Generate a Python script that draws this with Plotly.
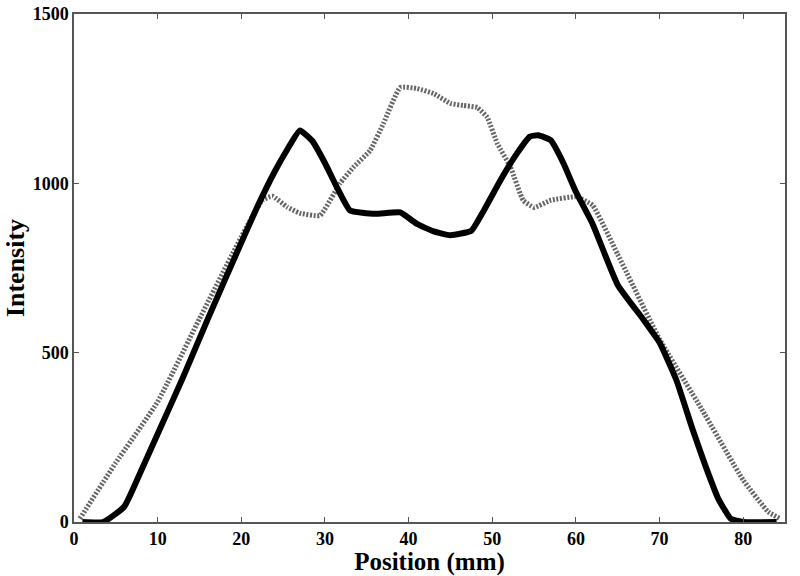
import plotly.graph_objects as go

# Solid black profile
solid_x = [1, 3.5, 6, 8, 10, 13, 16, 20, 22, 24, 25.5, 27, 28.5, 30, 31.5, 33, 36, 39, 41, 43, 45, 47.5, 49, 51, 53, 54.5, 55.5, 57, 58.5, 60, 62, 65, 68, 70, 72, 74, 75.5, 77, 78.5, 80, 84]
solid_y = [0, 0, 45, 150, 260, 425, 600, 825, 935, 1035, 1100, 1156, 1125, 1060, 985, 920, 910, 914, 880, 858, 847, 860, 920, 1010, 1090, 1138, 1142, 1127, 1060, 975, 880, 700, 600, 530, 420, 270, 165, 70, 10, 0, 0]

# Dotted grey profile
dot_x = [0.7, 5, 10, 15, 20, 22.5, 23.7, 25.5, 27, 29.4, 31.8, 33.5, 35.4, 37, 39, 41, 43, 45, 46.5, 48.2, 49.4, 50.6, 52.2, 53.7, 55, 57, 60, 62, 65, 70, 75, 80, 83, 84.4]
dot_y = [10, 175, 355, 600, 842, 950, 962, 930, 912, 905, 1000, 1050, 1097, 1177, 1283, 1280, 1265, 1236, 1230, 1224, 1195, 1118, 1047, 950, 929, 950, 960, 935, 790, 540, 335, 124, 30, 10]

x_ticks = [0, 10, 20, 30, 40, 50, 60, 70, 80]
y_ticks = [0, 500, 1000, 1500]

fig = go.Figure()
fig.add_trace(go.Scatter(x=dot_x, y=dot_y, mode="lines",
                         line=dict(color="#666666", width=5, dash="2px,1.6px", shape="spline", smoothing=0.4),
                         showlegend=False))
fig.add_trace(go.Scatter(x=solid_x, y=solid_y, mode="lines",
                         line=dict(color="black", width=6, shape="spline", smoothing=0.4),
                         showlegend=False))

font_family = "Liberation Serif, Times New Roman, serif"
axis_common = dict(showgrid=False, zeroline=False, showline=True, linecolor="#555", linewidth=1.5,
                   mirror="allticks", ticks="inside", ticklen=5, tickcolor="#555", automargin=False,
                   tickfont=dict(family=font_family, size=18, color="black"))

fig.update_layout(
    width=800, height=576,
    margin=dict(l=74, r=15, t=14, b=54),
    paper_bgcolor="white", plot_bgcolor="white",
    xaxis=dict(range=[0, 85], tickvals=x_ticks, ticktext=[f"<b>{v}</b>" for v in x_ticks], ticklabelstandoff=0,
               title=dict(text="<b>Position (mm)</b>", font=dict(family=font_family, size=25, color="black"), standoff=0),
               **axis_common),
    yaxis=dict(range=[0, 1500], tickvals=y_ticks, ticktext=[f"<b>{v}</b>" for v in y_ticks],
               title=dict(text="<b>Intensity</b>", font=dict(family=font_family, size=26, color="black"), standoff=1),
               **axis_common),
)

fig.write_html("out.html", config={"displayModeBar": False},
               post_script="document.body.style.margin='0';document.body.style.overflow='hidden';")
